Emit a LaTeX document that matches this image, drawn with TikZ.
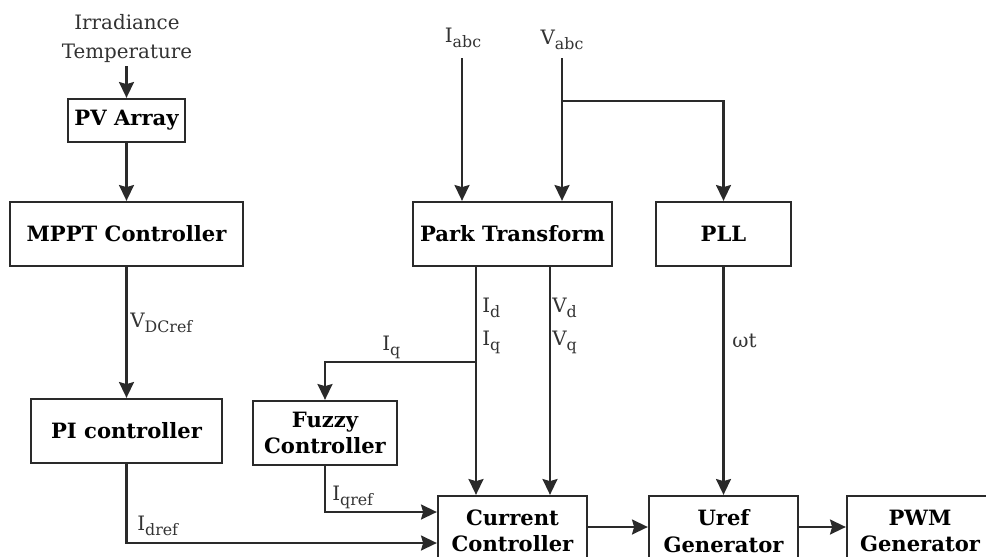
\documentclass[tikz,border=0pt]{standalone}
\usepackage{fontspec}
\setmainfont{DejaVu Serif}
\usetikzlibrary{arrows.meta}
\newcommand{\px}{0.569pt}
\newcommand{\mysub}[1]{\raisebox{-0.5ex}{\fontsize{9}{9}\selectfont #1}}
\definecolor{ink}{HTML}{2A2A2A}
\definecolor{txt}{HTML}{333333}
\begin{document}
\begin{tikzpicture}[x=0.569pt,y=-0.569pt,
  blk/.style={draw=ink,line width=1.3pt,inner sep=0pt,align=center,text=black,
    font=\bfseries\fontsize{12}{15}\selectfont},
  lbl/.style={inner sep=0pt,text=txt,font=\fontsize{11.3}{16}\selectfont},
  wire/.style={draw=ink,line width=1.3pt},
  arr/.style={wire,-{Stealth[length=9pt,width=8.5pt,inset=1.2pt]}}]
\useasboundingbox (0,0) rectangle (986,557);
\clip (0,0) rectangle (986,557);
\fill[white] (0,0) rectangle (986,557);
% blocks
\node[blk,minimum width=117*\px,minimum height=43*\px] (pv) at (126.5,120.5) {PV Array};
\node[blk,minimum width=233*\px,minimum height=64*\px] (mppt) at (126.5,234) {MPPT Controller};
\node[blk,minimum width=191*\px,minimum height=64*\px] (pi) at (126.5,431) {PI controller};
\node[blk,minimum width=144*\px,minimum height=64*\px] (fuzzy) at (325,433) {Fuzzy\\Controller};
\node[blk,minimum width=199*\px,minimum height=64*\px] (park) at (512.5,234) {Park Transform};
\node[blk,minimum width=135*\px,minimum height=64*\px] (pll) at (723.5,234) {PLL};
\node[blk,minimum width=149*\px,minimum height=70*\px] (cc) at (512.5,531) {Current\\Controller};
\node[blk,minimum width=149*\px,minimum height=70*\px] (uref) at (723.5,531) {Uref\\Generator};
\node[blk,minimum width=146*\px,minimum height=70*\px] (pwm) at (920,531) {PWM\\Generator};
% labels
\node[lbl,align=center,anchor=base] (env) at (127,58) {Irradiance\\Temperature};
\node[lbl,anchor=base] (iabc) at (463,42) {I\mysub{abc}};
\node[lbl,anchor=base] (vabc) at (562,44) {V\mysub{abc}};
\node[lbl,anchor=base west] (vdc) at (130,327) {V\mysub{DCref}};
\node[lbl,anchor=base west] (idl) at (482,312) {I\mysub{d}};
\node[lbl,anchor=base west] (iql) at (482,345) {I\mysub{q}};
\node[lbl,anchor=base west] (vdl) at (552,312) {V\mysub{d}};
\node[lbl,anchor=base west] (vql) at (552,345) {V\mysub{q}};
\node[lbl,anchor=base west] (iqb) at (382,350) {I\mysub{q}};
\node[lbl,anchor=base west] (wt) at (732,347) {ωt};
\node[lbl,anchor=base west] (iqr) at (332,500) {I\mysub{qref}};
\node[lbl,anchor=base west] (idr) at (137,530) {I\mysub{dref}};
% helper coordinates
\coordinate (envb) at (126.5,66);
\coordinate (iin) at (462,58);
\coordinate (vin) at (562,58);
\coordinate (vbr) at (562,101);
\coordinate (idx) at (476,0);
\coordinate (vdx) at (550,0);
\coordinate (iqj) at (476,362);
\coordinate (iqy) at (0,512);
\coordinate (idy) at (0,543);
\coordinate (ay) at (0,527);
% connectors
\draw[arr] (envb) -- (pv.north);
\draw[arr] (pv) -- (mppt);
\draw[arr] (mppt) -- (pi);
\draw[arr] (iin) -- (park.north -| iin);
\draw[arr] (vin) -- (park.north -| vin);
\draw[arr] (vbr) -| (pll.north);
\draw[arr] (park.south -| idx) -- (cc.north -| idx);
\draw[arr] (park.south -| vdx) -- (cc.north -| vdx);
\draw[arr] (iqj) -| (fuzzy.north);
\draw[arr] (pll) -- (uref);
\draw[arr] (fuzzy.south) |- (cc.west |- iqy);
\draw[arr] (pi.south) |- (cc.west |- idy);
\draw[arr] (cc.east |- ay) -- (uref.west |- ay);
\draw[arr] (uref.east |- ay) -- (pwm.west |- ay);
\end{tikzpicture}
\end{document}
